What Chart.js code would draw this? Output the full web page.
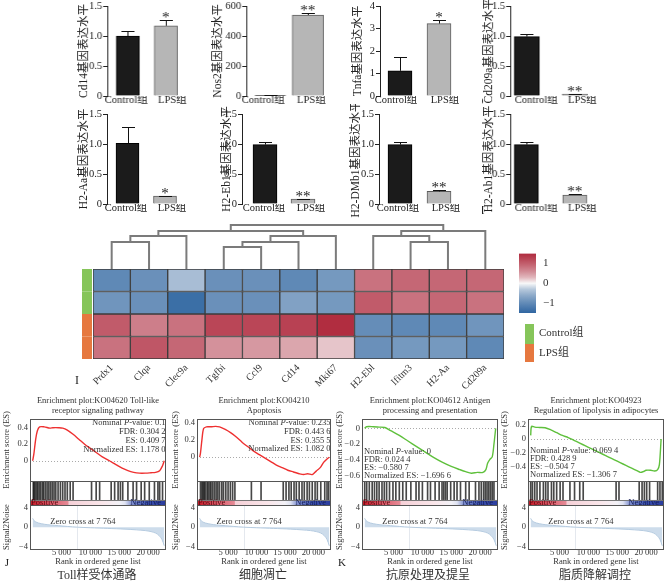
<!DOCTYPE html>
<html>
<head>
<meta charset="utf-8">
<script src="https://cdn.jsdelivr.net/npm/chart.js@4.4.0/dist/chart.umd.min.js"></script>
<style>
html, body { margin: 0; padding: 0; background: #fff; }
#fig { position: relative; width: 668px; height: 585px; overflow: hidden; background: #fff; }
#fig canvas { position: absolute; }
</style>
</head>
<body>
<div id="fig"></div>
<script>
// ---- bar panels A-H ----
var groups = ['Control组', 'LPS组'];
var barGenes = ['Cd14', 'Nos2', 'Tnfa', 'Cd209a', 'H2-Aa', 'H2-Eb1', 'H2-DMb1', 'H2-Ab1'];
var ctrlMean = [1.00, 5, 1.12, 0.99, 1.01, 0.99, 0.99, 0.99];
var ctrlErr  = [0.08, 2, 0.60, 0.04, 0.27, 0.05, 0.05, 0.05];
var lpsMean  = [1.17, 540, 3.22, 0.03, 0.13, 0.08, 0.21, 0.15];
var lpsErr   = [0.09, 12, 0.15, 0.01, 0.005, 0.005, 0.03, 0.01];
var stars    = ['*', '**', '*', '**', '*', '**', '**', '**'];
var yMax     = [1.5, 600, 4, 1.5, 1.5, 1.5, 1.5, 1.5];
var yStep    = [0.5, 200, 1, 0.5, 0.5, 0.5, 0.5, 0.5];
var letters  = ['A', 'B', 'C', 'D', 'E', 'F', 'G', 'H'];

// ---- heatmap I ----
var heatGenes = ['Prdx1', 'Clqa', 'Clec9a', 'Tgfbi', 'Ccl9', 'Cd14', 'Mki67', 'H2-Ebl', 'Ifitm3', 'H2-Aa', 'Cd209a'];
var zCtrl1 = [-1.0, -0.9, -0.4, -0.9, -0.9, -1.0, -0.8, 0.8, 0.9, 0.9, 0.9];
var zCtrl2 = [-0.85, -0.9, -1.35, -0.9, -0.9, -0.7, -0.8, 1.0, 0.8, 0.9, 0.8];
var zLps1  = [1.0, 0.7, 0.8, 1.2, 1.2, 1.25, 1.45, -0.95, -1.0, -1.0, -0.85];
var zLps2  = [0.8, 1.05, 0.9, 0.55, 0.5, 0.4, 0.2, -0.9, -0.8, -0.8, -1.0];
// [left, right, height]; new cluster ids start at 11
var dendroMerges = [[0,1,27],[11,2,33],[3,4,22],[13,5,27],[14,6,33],[12,15,38],[8,9,27],[7,17,33],[18,10,38],[16,19,44]];
var cbarTicks = [-1, 0, 1];

// ---- GSEA J/K ----
var rankTicks = [5000, 10000, 15000, 20000];
var s2nRank = [0, 200, 500, 1000, 2000, 3000, 4500, 6000, 7764, 10000, 13000, 16000, 18000, 19500, 20500, 21300, 21900, 22400, 22800];
var s2nVal  = [1.8, 1.4, 1.1, 0.85, 0.6, 0.45, 0.3, 0.15, 0, -0.12, -0.25, -0.4, -0.55, -0.7, -0.9, -1.2, -1.7, -2.5, -3.8];

var esToll = [[0,0],[200,0.08],[500,0.25],[800,0.36],[1200,0.41],[2000,0.41],[3000,0.395],[3500,0.40],[4500,0.40],[5200,0.395],[6000,0.37],[7000,0.32],[8000,0.26],[9000,0.20],[10000,0.15],[11000,0.10],[12000,0.05],[13300,0],[14500,-0.05],[15500,-0.09],[16500,-0.12],[17500,-0.14],[18500,-0.15],[19500,-0.15],[20500,-0.145],[21300,-0.14],[22000,-0.12],[22500,-0.06],[22800,0.0]];
var esApop = [[0,0],[150,0.05],[400,0.2],[700,0.33],[1200,0.35],[2000,0.35],[2800,0.355],[3500,0.35],[4500,0.32],[5500,0.28],[6500,0.23],[7500,0.17],[8500,0.12],[9500,0.07],[10500,0.03],[11500,-0.01],[12500,-0.05],[13500,-0.09],[14500,-0.12],[15500,-0.15],[16500,-0.17],[17500,-0.19],[18300,-0.2],[19000,-0.19],[19800,-0.2],[20500,-0.16],[21200,-0.12],[21800,-0.06],[22400,-0.02],[22800,0]];
var esAnti = [[0,0],[300,0.02],[1500,0.02],[2500,0.015],[3500,0.01],[4500,-0.03],[6000,-0.09],[7500,-0.16],[9000,-0.23],[10500,-0.30],[12000,-0.37],[13500,-0.43],[15000,-0.48],[16500,-0.52],[17500,-0.545],[18500,-0.565],[19500,-0.555],[20500,-0.555],[21000,-0.52],[21300,-0.44],[21700,-0.39],[22100,-0.36],[22400,-0.2],[22700,0]];
var esLipo = [[0,0.05],[150,0.18],[700,0.17],[1500,0.165],[2500,0.16],[3500,0.13],[4500,0.09],[5500,0.05],[6500,0.02],[7500,-0.02],[8500,-0.06],[9500,-0.10],[10500,-0.14],[11500,-0.18],[12500,-0.22],[13500,-0.26],[14500,-0.30],[15500,-0.34],[16500,-0.38],[17500,-0.42],[18500,-0.46],[19000,-0.48],[19500,-0.47],[20000,-0.45],[20800,-0.45],[21500,-0.46],[22000,-0.44],[22300,-0.37],[22600,0]];

var hitsToll = [100,250,450,700,900,1150,1400,1700,1900,2200,2500,2800,3100,3400,3700,4000,4400,4800,5200,5600,6000,6500,7000,10200,11000,11600,13600,14200,14800,15200,15600,16500,17400,18000,18800,19400,20200,21100,21700,22000,22500];
var hitsApop = [150,400,600,800,1000,1300,1500,1800,2000,2300,2600,2900,3200,3500,3900,4200,4600,5000,5400,5800,6200,9100,10800,14700,15200,15700,16100,16600,17000,17500,18000,18400,18900,19300,19800,20300,20700,21300,22000,22400,22700];
var hitsAnti = [0,350,800,1300,1700,2100,2500,3000,3400,3800,4300,4900,5400,6000,6600,7200,8000,8900,9400,10000,10900,11400,12200,12900,13400,13700,14000,14300,14900,15500,16000,16600,17500,18100,19200,19800,20200,20600,20900,21200,21500,21800,22100,22400];
var hitsLipo = [0,300,700,1100,1600,2200,2600,3000,3600,4000,4500,5100,5600,6800,7600,8500,9100,14800,15300,18800,19300,19700,20100,20600,22000,22400,22800];

var gseaTitles = [
  ['Enrichment plot:KO04620 Toll-like', 'receptor signaling pathway'],
  ['Enrichment plot:KO04210', 'Apoptosis'],
  ['Enrichment plot:KO04612 Antigen', 'processing and presentation'],
  ['Enrichment plot:KO04923', 'Regulation of lipolysis in adipocytes']
];
var gseaStats = [
  ['0.1', '0.304 2', '0.409 7', '1.178 0'],
  ['0.235', '0.443 6', '0.355 5', '1.082 0'],
  ['0', '0.024 4', '\u22120.580 7', '\u22121.696 6'],
  ['0.069 4', '0.428 9', '\u22120.504 7', '\u22121.306 7']
];
var gseaCaptions = ['Toll样受体通路', '细胞凋亡', '抗原处理及提呈', '脂质降解调控'];
var esTicks = [[0.4,0.3,0.2,0.1,0,-0.2], [0.4,0.3,0.2,0.1,0,-0.2], [0,-0.2,-0.4,-0.6], [0.2,0,-0.2,-0.4]];

var SERIF = "'Liberation Serif','Noto Sans CJK SC',serif";
var GS = 8.5; // gsea text size
Chart.defaults.font.family = SERIF;
Chart.defaults.color = '#222';
Chart.defaults.animation = false;
Chart.defaults.responsive = false;
Chart.defaults.devicePixelRatio = 1;
Chart.defaults.plugins.legend.display = false;
Chart.defaults.plugins.tooltip.enabled = false;

var fig = document.getElementById('fig');
function mkCanvas(l, t, w, h) {
  var c = document.createElement('canvas');
  c.width = w; c.height = h;
  c.style.left = l + 'px'; c.style.top = t + 'px';
  c.style.width = w + 'px'; c.style.height = h + 'px';
  fig.appendChild(c);
  return c;
}
function txt(ctx, s, x, y, font, color, align, base) {
  ctx.save();
  ctx.font = font; ctx.fillStyle = color || '#222';
  ctx.textAlign = align || 'left'; ctx.textBaseline = base || 'middle';
  ctx.fillText(s, x, y);
  ctx.restore();
}
function minus(v) { return v < 0 ? '\u2212' + (-v) : String(v); }
function fmtK(v) { return String(v).replace(/\B(?=(\d{3})+(?!\d))/g, ' '); }

// ================= bar panels =================
var barLayout = [
  {axis:107, c1:127.5, c2:165.5, bw:23, t1:126, t2:172, top:6,   zero:96,  tx:84,  lx:70,  ly:102},
  {axis:246, c1:270,   c2:307.5, bw:31, t1:263, t2:311, top:6,   zero:96,  tx:218, lx:206, ly:102},
  {axis:380, c1:400,   c2:439,   bw:24, t1:396, t2:445, top:6,   zero:96,  tx:358, lx:343, ly:102},
  {axis:510, c1:526.5, c2:574.5, bw:25, t1:536, t2:582, top:6,   zero:96,  tx:489, lx:479, ly:102},
  {axis:107, c1:127.5, c2:165,   bw:23, t1:126, t2:172, top:114, zero:204, tx:84,  lx:72,  ly:211},
  {axis:242, c1:265,   c2:303,   bw:24, t1:264, t2:311, top:114, zero:204, tx:227, lx:207, ly:211},
  {axis:379, c1:400,   c2:439,   bw:24, t1:398, t2:446, top:114, zero:204, tx:356, lx:343, ly:211},
  {axis:510, c1:526,   c2:574.5, bw:24, t1:536, t2:582, top:114, zero:204, tx:489, lx:480, ly:211}
];

var errBars = {
  id: 'errBars',
  afterDatasetsDraw: function (ch, args, o) {
    var ctx = ch.ctx, xs = ch.scales.x, ys = ch.scales.y, i = o.idx;
    var m = [ctrlMean[i], lpsMean[i]], e = [ctrlErr[i], lpsErr[i]];
    ctx.save();
    ctx.strokeStyle = '#111'; ctx.lineWidth = 1;
    for (var k = 0; k < 2; k++) {
      var x = Math.round(xs.getPixelForValue(k)) + 0.5;
      var y0 = ys.getPixelForValue(m[k]), y1 = Math.round(ys.getPixelForValue(m[k] + e[k])) + 0.5;
      ctx.beginPath();
      ctx.moveTo(x, y0); ctx.lineTo(x, y1);
      ctx.moveTo(x - 6.5, y1); ctx.lineTo(x + 6.5, y1);
      ctx.stroke();
    }
    var xl = xs.getPixelForValue(1), yl = ys.getPixelForValue(m[1] + e[1]);
    txt(ctx, stars[i], xl, yl + 2, '15px ' + SERIF, '#222', 'center', 'alphabetic');
    txt(ctx, letters[i], o.lx - o.cl, o.ly - o.ct, '12px ' + SERIF, '#222', 'center', 'middle');
    ctx.restore();
  }
};

barLayout.forEach(function (L, i) {
  var cl = L.tx - 7, ct = L.top - 10;
  var right = L.c2 + 16;
  var w = right - cl + 12, h = L.zero - ct + 20;
  var sp = L.c2 - L.c1;
  var labVals = [(L.t1 - L.c1) / sp, 1 + (L.t2 - L.c2) / sp];
  new Chart(mkCanvas(cl, ct, w, h), {
    type: 'bar',
    data: {
      datasets: [{
        data: [{x: 0, y: ctrlMean[i]}, {x: 1, y: lpsMean[i]}],
        backgroundColor: ['#1b1b1b', '#b6b6b6'],
        borderColor: ['#000', '#5c5c5c'],
        borderWidth: 1,
        barThickness: L.bw
      }]
    },
    options: {
      layout: {padding: {top: 10, right: 12, bottom: 2, left: 0}},
      plugins: {errBars: {idx: i, lx: L.lx, ly: L.ly, cl: cl, ct: ct}},
      scales: {
        x: {
          type: 'linear', offset: false,
          min: -(L.c1 - L.axis) / sp, max: 1 + 16 / sp,
          afterBuildTicks: function (s) { s.ticks = labVals.map(function (v) { return {value: v}; }); },
          ticks: {callback: function (v, k) { return groups[k]; }, padding: -2, font: {size: 10.5}, color: '#222', maxRotation: 0, autoSkip: false},
          grid: {display: false, drawTicks: false},
          border: {display: false},
          afterFit: function (s) { s.height = 18; }
        },
        y: {
          min: 0, max: yMax[i],
          ticks: {stepSize: yStep[i], padding: 1, font: {size: 10.5}, color: '#222',
            callback: function (v) { return v === 0 ? '0' : (yStep[i] < 1 ? v.toFixed(1) : String(v)); }},
          grid: {drawOnChartArea: false, tickLength: 4, color: '#222'},
          border: {color: '#222'},
          title: {display: true, text: barGenes[i] + '基因表达水平', padding: 0, font: {size: 11.5}, color: '#222'},
          afterFit: function (s) { s.width = L.axis - cl; }
        }
      }
    },
    plugins: [errBars]
  });
});

// ================= heatmap =================
function heatColor(v) {
  var t = Math.pow(Math.min(1, Math.abs(v) / 1.5), 0.7);
  var c = v >= 0 ? [175, 40, 60] : [45, 100, 160];
  var r = Math.round(248 + (c[0] - 248) * t), g = Math.round(248 + (c[1] - 248) * t), b = Math.round(248 + (c[2] - 248) * t);
  return 'rgb(' + r + ',' + g + ',' + b + ')';
}
var heatRows = [zCtrl1, zCtrl2, zLps1, zLps2];
var heatDeco = {
  id: 'heatDeco',
  afterDatasetsDraw: function (ch) {
    var ctx = ch.ctx, a = ch.chartArea, ys = ch.scales.y;
    var cols = ['#86c55a', '#86c55a', '#e6783f', '#e6783f'];
    for (var r = 0; r < 4; r++) {
      var yt = ys.getPixelForValue(4 - r), yb = ys.getPixelForValue(3 - r);
      ctx.fillStyle = cols[r];
      ctx.fillRect(a.left - 11, yt, 10, yb - yt);
    }
    txt(ctx, 'I', 77 - 30, 381 - 262, '12px ' + SERIF, '#222', 'center', 'middle');
  }
};
new Chart(mkCanvas(30, 262, 478, 137), {
  type: 'bar',
  data: {
    labels: heatGenes,
    datasets: heatRows.map(function (z, r) {
      return {
        data: z.map(function () { return [3 - r, 4 - r]; }),
        backgroundColor: z.map(heatColor),
        borderColor: '#3c3c3c', borderWidth: 1, borderSkipped: false,
        barPercentage: 1, categoryPercentage: 1, grouped: false
      };
    })
  },
  options: {
    layout: {padding: {top: 7, left: 63, right: 4, bottom: 0}},
    scales: {
      x: {
        grid: {display: false, drawTicks: false}, border: {display: false},
        ticks: {autoSkip: false, minRotation: 45, maxRotation: 45, padding: 3, font: {size: 10}, color: '#333'},
        afterFit: function (s) { s.height = 40; }
      },
      y: {min: 0, max: 4, display: false}
    }
  },
  plugins: [heatDeco]
});

// dendrogram
var dPos = heatGenes.map(function (g, j) { return j; });
var dHgt = heatGenes.map(function () { return 0; });
var dendroSets = dendroMerges.map(function (m) {
  var a = m[0], b = m[1], h = m[2];
  var seg = [{x: dPos[a], y: dHgt[a]}, {x: dPos[a], y: h}, {x: dPos[b], y: h}, {x: dPos[b], y: dHgt[b]}];
  dPos.push((dPos[a] + dPos[b]) / 2); dHgt.push(h);
  return {data: seg, showLine: true, borderColor: '#7b7b7b', borderWidth: 2, pointRadius: 0, clip: false, tension: 0};
});
new Chart(mkCanvas(89, 221, 419, 52), {
  type: 'scatter',
  data: {datasets: dendroSets},
  options: {
    layout: {padding: 4},
    scales: {
      x: {type: 'linear', min: -0.5, max: 10.5, display: false},
      y: {min: 0, max: 44, display: false}
    }
  }
});

// colour bar + group legend
var cbarLegend = {
  id: 'cbarLegend',
  afterDraw: function (ch) {
    var ctx = ch.ctx, ox = 505, oy = 240;
    ctx.fillStyle = '#86c55a'; ctx.fillRect(525 - ox, 324 - oy, 9, 20);
    ctx.fillStyle = '#e6783f'; ctx.fillRect(525 - ox, 344 - oy, 9, 18);
    txt(ctx, 'Control组', 539 - ox, 333 - oy, '11px ' + SERIF, '#333', 'left', 'middle');
    txt(ctx, 'LPS组', 539 - ox, 353 - oy, '11px ' + SERIF, '#333', 'left', 'middle');
  }
};
new Chart(mkCanvas(505, 240, 100, 130), {
  type: 'bar',
  data: {
    labels: ['z'],
    datasets: [{
      data: [[-1.47, 1.47]],
      barPercentage: 1, categoryPercentage: 1, borderWidth: 0,
      backgroundColor: function (c) {
        var a = c.chart.chartArea;
        if (!a) return '#fff';
        var g = c.chart.ctx.createLinearGradient(0, a.bottom, 0, a.top);
        for (var k = 0; k <= 10; k++) {
          var v = -1.47 + 2.94 * k / 10;
          g.addColorStop(k / 10, heatColor(v));
        }
        return g;
      }
    }]
  },
  options: {
    layout: {padding: {top: 8, left: 14, right: 40, bottom: 57}},
    scales: {
      x: {display: false},
      y: {
        position: 'right', min: -1.47, max: 1.47,
        afterBuildTicks: function (s) { s.ticks = cbarTicks.map(function (v) { return {value: v}; }); },
        ticks: {callback: minus, padding: 7, font: {size: 11}, color: '#333'},
        grid: {display: false, drawTicks: false}, border: {display: false},
        afterFit: function (s) { s.width = 29; }
      }
    }
  },
  plugins: [cbarLegend]
});

// ================= GSEA =================
var X_MIN = -465, X_MAX = 23100;
var gseaLayout = [
  {fl: 30,  fr: 166, cl: 2,   color: '#ee3030', yMin: -0.245, yMax: 0.505, statsRight: true,  statsY: [423, 432, 441, 450], capX: 97,  letter: 'J', lx: 7},
  {fl: 197, fr: 331, cl: 171, color: '#ee3030', yMin: -0.274, yMax: 0.44,  statsRight: true,  statsY: [423, 432, 441, 449], capX: 263, letter: '',  lx: 0},
  {fl: 362, fr: 498, cl: 335, color: '#5fc03c', yMin: -0.663, yMax: 0.117, statsRight: false, statsY: [452, 460, 468, 476], capX: 428, letter: 'K', lx: 342},
  {fl: 528, fr: 664, cl: 500, color: '#5fc03c', yMin: -0.604, yMax: 0.286, statsRight: false, statsY: [451, 459, 467, 475], capX: 595, letter: '',  lx: 0}
];
var esData = [esToll, esApop, esAnti, esLipo];
var hitData = [hitsToll, hitsApop, hitsAnti, hitsLipo];

var frame = {
  id: 'frame',
  afterDraw: function (ch) {
    var a = ch.chartArea, ctx = ch.ctx;
    ctx.save();
    ctx.strokeStyle = '#555'; ctx.lineWidth = 1;
    ctx.strokeRect(Math.round(a.left) + 0.5, Math.round(a.top) + 0.5, Math.round(a.right - a.left) - 1, Math.round(a.bottom - a.top));
    ctx.restore();
  }
};

var esDeco = {
  id: 'esDeco',
  beforeDatasetsDraw: function (ch) {
    var ctx = ch.ctx, a = ch.chartArea, y = Math.round(ch.scales.y.getPixelForValue(0)) + 0.5;
    ctx.save();
    ctx.strokeStyle = '#aaa'; ctx.setLineDash([1, 2]); ctx.lineWidth = 1;
    ctx.beginPath(); ctx.moveTo(a.left, y); ctx.lineTo(a.right, y); ctx.stroke();
    ctx.restore();
  },
  afterDraw: function (ch, args, o) {
    var ctx = ch.ctx, g = o.g, s = gseaStats[o.k], t = gseaTitles[o.k];
    var ox = g.cl, oy = 393, cx = (g.fl + g.fr) / 2 - ox;
    txt(ctx, t[0], cx, 401 - oy, GS + 'px ' + SERIF, '#333', 'center', 'middle');
    txt(ctx, t[1], cx, 410.5 - oy, GS + 'px ' + SERIF, '#333', 'center', 'middle');
    var f = GS + 'px ' + SERIF, fi = 'italic ' + GS + 'px ' + SERIF;
    var lines = [null, 'FDR: ' + s[1], 'ES: ' + s[2], 'Normalized ES: ' + s[3]];
    ctx.save();
    ctx.font = f;
    var w1 = ctx.measureText('Nominal ').width, w3 = ctx.measureText('-value: ' + s[0]).width;
    ctx.font = fi;
    var w2 = ctx.measureText('P').width;
    ctx.restore();
    var x0 = g.statsRight ? g.fr - 0.5 - ox - (w1 + w2 + w3) : g.fl + 2 - ox;
    var y0 = g.statsY[0] - oy;
    txt(ctx, 'Nominal ', x0, y0, f, '#333', 'left', 'middle');
    txt(ctx, 'P', x0 + w1, y0, fi, '#333', 'left', 'middle');
    txt(ctx, '-value: ' + s[0], x0 + w1 + w2, y0, f, '#333', 'left', 'middle');
    for (var k = 1; k < 4; k++) {
      if (g.statsRight) txt(ctx, lines[k], g.fr - 0.5 - ox, g.statsY[k] - oy, f, '#333', 'right', 'middle');
      else txt(ctx, lines[k], g.fl + 2 - ox, g.statsY[k] - oy, f, '#333', 'left', 'middle');
    }
  }
};

var stripStops = [[0,'#c41f2c'],[2500,'#d9505f'],[6100,'#e58a96'],[6300,'#f5d0d7'],[12000,'#fae6ea'],[15000,'#f3f2f7'],[16000,'#dfe3f2'],[17200,'#7f8fcf'],[20000,'#3b51b1'],[23000,'#2a3c9c']];
var strip = {
  id: 'strip',
  afterDatasetsDraw: function (ch) {
    var ctx = ch.ctx, a = ch.chartArea, xs = ch.scales.x, ys = ch.scales.y;
    var y0 = ys.getPixelForValue(0.21), y1 = ys.getPixelForValue(0);
    var g = ctx.createLinearGradient(a.left, 0, a.right, 0);
    stripStops.forEach(function (s) {
      var f = (xs.getPixelForValue(s[0]) - a.left) / (a.right - a.left);
      g.addColorStop(Math.max(0, Math.min(1, f)), s[1]);
    });
    ctx.save();
    ctx.fillStyle = g;
    ctx.fillRect(a.left, y0, a.right - a.left, y1 - y0);
    ctx.strokeStyle = '#777'; ctx.lineWidth = 1;
    ctx.beginPath(); ctx.moveTo(a.left, Math.round(y0) + 0.5); ctx.lineTo(a.right, Math.round(y0) + 0.5); ctx.stroke();
    ctx.restore();
    var ym = (y0 + y1) / 2 + 0.5;
    txt(ctx, 'Positive', a.left + 1, ym, GS + 'px ' + SERIF, '#5a0a12', 'left', 'middle');
    txt(ctx, 'Negative', a.right - 5, ym, GS + 'px ' + SERIF, '#141c55', 'right', 'middle');
  }
};

var s2nDeco = {
  id: 's2nDeco',
  beforeDatasetsDraw: function (ch) {
    var ctx = ch.ctx, a = ch.chartArea, x = Math.round(ch.scales.x.getPixelForValue(7764)) + 0.5;
    ctx.save();
    ctx.strokeStyle = '#e4e8ee'; ctx.lineWidth = 1;
    ctx.beginPath(); ctx.moveTo(x, a.top); ctx.lineTo(x, a.bottom); ctx.stroke();
    ctx.restore();
  },
  afterDraw: function (ch, args, o) {
    var ctx = ch.ctx, g = o.g, xs = ch.scales.x, ys = ch.scales.y;
    txt(ctx, 'Zero cross at 7 764', xs.getPixelForValue(8700), ys.getPixelForValue(1.07), GS + 'px ' + SERIF, '#333', 'center', 'middle');
    txt(ctx, gseaCaptions[o.k], g.capX - g.cl, 576 - 498, '12px ' + SERIF, '#333', 'center', 'middle');
    if (g.letter) txt(ctx, g.letter, g.lx - g.cl, 563 - 498, '11px ' + SERIF, '#222', 'center', 'middle');
  }
};

gseaLayout.forEach(function (g, k) {
  // enrichment score
  new Chart(mkCanvas(g.cl, 393, g.fr + 2 - g.cl, 98), {
    type: 'line',
    data: {datasets: [{
      data: esData[k].map(function (p) { return {x: p[0], y: p[1]}; }),
      borderColor: g.color, borderWidth: 1.4, pointRadius: 0, tension: 0.3, fill: false
    }]},
    options: {
      layout: {padding: {top: 26, right: 2, bottom: 10, left: 0}},
      plugins: {esDeco: {g: g, k: k}},
      scales: {
        x: {type: 'linear', min: X_MIN, max: X_MAX, display: false},
        y: {
          min: g.yMin, max: g.yMax,
          afterBuildTicks: function (s) { s.ticks = esTicks[k].map(function (v) { return {value: v}; }); },
          ticks: {callback: function (v) { return v === 0 ? '0' : (v < 0 ? '\u2212' : '') + Math.abs(v).toFixed(1); }, padding: 2, font: {size: GS}, color: '#333'},
          grid: {display: false, drawTicks: false}, border: {display: false},
          title: {display: true, text: 'Enrichment score (ES)', padding: 0, font: {size: GS}, color: '#333'},
          afterFit: function (s) { s.width = g.fl - g.cl; }
        }
      }
    },
    plugins: [esDeco, frame]
  });

  // hits + ranked-list strip
  new Chart(mkCanvas(g.fl, 481, g.fr - g.fl, 24), {
    type: 'bar',
    data: {datasets: [{
      data: hitData[k].map(function (r) { return {x: r, y: [0.21, 1]}; }),
      backgroundColor: 'rgba(0,0,0,0.72)', borderWidth: 0, barThickness: 1
    }]},
    options: {
      layout: {padding: 0},
      scales: {
        x: {type: 'linear', min: X_MIN, max: X_MAX, display: false, offset: false},
        y: {min: 0, max: 1, display: false}
      }
    },
    plugins: [strip, frame]
  });

  // signal2noise
  new Chart(mkCanvas(g.cl, 498, g.fr + 2 - g.cl, 87), {
    type: 'line',
    data: {datasets: [{
      data: s2nRank.map(function (r, j) { return {x: r, y: s2nVal[j]}; }),
      fill: 'origin', backgroundColor: 'rgba(196,214,232,0.85)', borderColor: '#b5cbe0',
      borderWidth: 1, pointRadius: 0, tension: 0.3
    }]},
    options: {
      layout: {padding: {top: 7, right: 2, bottom: 18, left: 0}},
      plugins: {s2nDeco: {g: g, k: k}},
      scales: {
        x: {
          type: 'linear', min: X_MIN, max: X_MAX,
          afterBuildTicks: function (s) { s.ticks = rankTicks.map(function (v) { return {value: v}; }); },
          ticks: {callback: fmtK, padding: -1, font: {size: GS}, color: '#333', maxRotation: 0},
          grid: {display: false, drawTicks: false}, border: {display: false},
          title: {display: true, text: 'Rank in ordered gene list', padding: 0, font: {size: GS}, color: '#333'},
          afterFit: function (s) { s.height = 18; }
        },
        y: {
          min: -4.45, max: 4.5,
          afterBuildTicks: function (s) { s.ticks = [4, 2, 0, -2, -4].map(function (v) { return {value: v}; }); },
          ticks: {callback: minus, padding: 2, font: {size: GS}, color: '#333'},
          grid: {display: false, drawTicks: false}, border: {display: false},
          title: {display: true, text: 'Signal2Noise', padding: 0, font: {size: GS}, color: '#333'},
          afterFit: function (s) { s.width = g.fl - g.cl; }
        }
      }
    },
    plugins: [s2nDeco, frame]
  });
});
</script>
</body>
</html>
